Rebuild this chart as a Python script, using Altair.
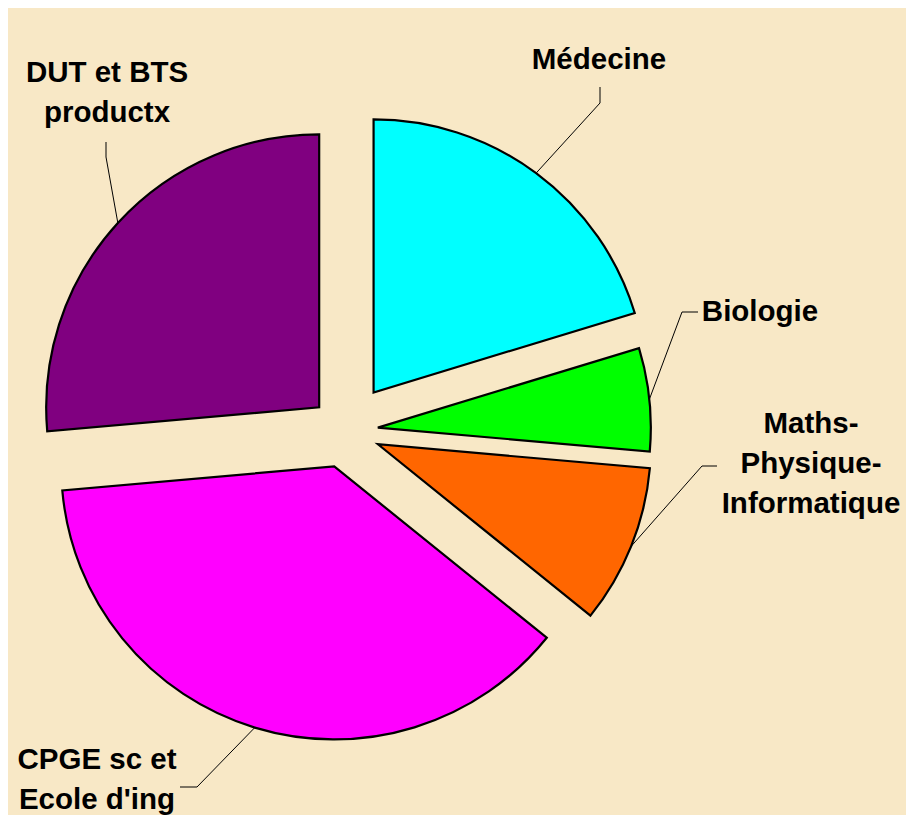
import math
import altair as alt
import pandas as pd

# ---- data ----
categories = ["Médecine", "Biologie", "Maths-Physique-Informatique",
              "CPGE sc et Ecole d'ing", "DUT et BTS productx"]
values = [20.3, 6.1, 9.4, 37.8, 26.4]
label_texts = ["Médecine", "Biologie", "Maths-\nPhysique-\nInformatique",
               "CPGE sc et\nEcole d'ing", "DUT et BTS\nproductx"]

# ---- style / layout ----
colors = ["#00FFFF", "#00FF00", "#FF6600", "#FF00FF", "#800080"]
explode = [48, 33, 35.5, 37, 35]          # slice explosion (px)
label_x = [254, 415, 466, -248, -238]     # label anchors, relative to pie centre (y up)
label_y = [362, 110, -2, -338, 349]
elbow_x = [255, 337, 357, -148, -239]
elbow_y = [328, 119, -35, -356, 274]
end_x = [255, 353, 372, -165, -239]
end_y = [344, 119, -35, -356, 289]
R = 273
W, H = 898, 807
X_DOM = [-337, W - 337]
Y_DOM = [423 - H, 423]
BG = "#F8E8C6"

total = sum(values)
rows, lines, labels = [], [], []
acc = 0.0
for i, (c, v) in enumerate(zip(categories, values)):
    t0 = acc / total * 2 * math.pi
    acc += v
    t1 = acc / total * 2 * math.pi
    mid = (t0 + t1) / 2
    cx = explode[i] * math.sin(mid)
    cy = explode[i] * math.cos(mid)
    rows.append(dict(cat=c, t0=t0, t1=t1, cx=cx, cy=cy))
    pts = [(cx + R * math.sin(mid), cy + R * math.cos(mid)),
           (elbow_x[i], elbow_y[i]), (end_x[i], end_y[i])]
    for k, (px, py) in enumerate(pts):
        lines.append(dict(cat=c, k=k, x=px, y=py))
    labels.append(dict(cat=c, x=label_x[i], y=label_y[i], text=label_texts[i]))

slices = pd.DataFrame(rows)
leaders = pd.DataFrame(lines)
labs = pd.DataFrame(labels)

xs = alt.Scale(domain=X_DOM, nice=False, zero=False)
ys = alt.Scale(domain=Y_DOM, nice=False, zero=False)

pie = alt.Chart(slices).mark_arc(outerRadius=R, stroke="black", strokeWidth=2.2).encode(
    x=alt.X("cx:Q", scale=xs, axis=None),
    y=alt.Y("cy:Q", scale=ys, axis=None),
    theta=alt.Theta("t0:Q", scale=None, stack=False),
    theta2="t1:Q",
    color=alt.Color("cat:N", scale=alt.Scale(domain=categories, range=colors), legend=None),
)

lead = alt.Chart(leaders).mark_line(color="black", strokeWidth=1).encode(
    x=alt.X("x:Q", scale=xs, axis=None),
    y=alt.Y("y:Q", scale=ys, axis=None),
    detail="cat:N",
    order="k:Q",
)

text = alt.Chart(labs).mark_text(
    font="Liberation Sans", fontWeight="bold", fontSize=29.5, color="black",
    align="center", baseline="alphabetic", lineBreak="\n", lineHeight=40,
).encode(
    x=alt.X("x:Q", scale=xs, axis=None),
    y=alt.Y("y:Q", scale=ys, axis=None),
    text="text:N",
)

chart = alt.layer(lead, pie, text).properties(
    width=W, height=H, background=BG, padding=0,
    autosize=alt.AutoSizeParams(type="none"),
).configure_view(stroke=None)

chart.save("out.html", embed_options={"renderer": "svg", "actions": False})
